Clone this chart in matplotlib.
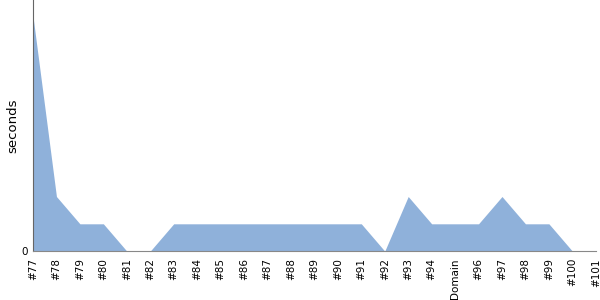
import numpy as np
import matplotlib.pyplot as plt

# build labels and measured durations
labels = ['#77', '#78', '#79', '#80', '#81', '#82', '#83', '#84', '#85', '#86',
          '#87', '#88', '#89', '#90', '#91', '#92', '#93', '#94', 'Domain', '#96',
          '#97', '#98', '#99', '#100', '#101']
seconds = [8.6, 2, 1, 1, 0, 0, 1, 1, 1, 1,
           1, 1, 1, 1, 1, 0, 2, 1, 1, 1,
           2, 1, 1, 0, 0]

x = np.arange(len(labels))

fig = plt.figure(figsize=(6, 3), dpi=100)
ax = fig.add_axes([0.055, 0.163, 0.938, 0.837])

ax.fill_between(x, seconds, 0, color='#8fb1da', linewidth=0)

ax.set_xlim(0, len(labels) - 1)
ax.set_ylim(0, 9.2)
ax.set_xticks(x)
ax.set_xticklabels(labels, rotation=90, fontsize=7.5)
ax.set_yticks([0])
ax.tick_params(axis='y', labelsize=7.5, length=0, pad=4)
ax.tick_params(axis='x', length=0, pad=5)
ax.set_ylabel('seconds', fontsize=9.5, labelpad=1)

ax.spines['top'].set_visible(False)
ax.spines['right'].set_visible(False)
ax.spines['left'].set_color('#666666')
ax.spines['bottom'].set_color('#888888')

plt.savefig('out.png')
